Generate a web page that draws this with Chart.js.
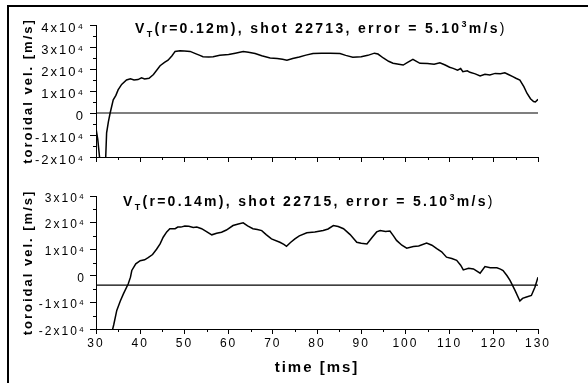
<!DOCTYPE html>
<html>
<head>
<meta charset="utf-8">
<script src="https://cdn.jsdelivr.net/npm/chart.js@4.4.1/dist/chart.umd.min.js"></script>
<style>
  html, body { margin: 0; padding: 0; background: #fff; }
  #frame { position: relative; width: 588px; height: 383px; overflow: hidden; }
  #frame:before { content: ''; position: absolute; left: 7px; top: 5px; right: 0; bottom: 0; border-left: 2px solid #000; border-top: 2px solid #000; }
  canvas { position: absolute; left: 0; }
  #top { top: 0; }
  #bottom { top: 180px; }
</style>
</head>
<body>
<div id="frame">
  <canvas id="top" width="588" height="180"></canvas>
  <canvas id="bottom" width="588" height="203"></canvas>
</div>
<script>
// shot 22713, r = 0.12 m
const timeTop = [30.0, 30.4, 30.8, 31.2, 31.8, 32.2, 32.4, 32.8, 33.2, 33.9, 34.5, 35.0, 35.8, 36.9, 37.8, 38.6, 39.5, 40.3, 41.0, 42.0,
  43.0, 44.5, 45.5, 46.3, 47.2, 47.9, 49.0, 50.0, 51.3, 52.5, 53.5, 54.2, 55.5, 56.5, 58.0, 60.0, 61.5, 63.3, 64.5, 66.0,
  67.5, 69.4, 71.0, 72.2, 73.2, 74.5, 76.0, 77.5, 79.1, 81.0, 83.0, 85.2, 86.5, 88.1, 90.0, 91.5, 93.0, 93.8, 95.0, 96.2,
  97.2, 98.5, 99.5, 100.5, 101.7, 102.5, 103.3, 105.0, 106.5, 107.8, 109.0, 110.0, 110.8, 111.8, 112.5, 113.0, 114.0, 114.6, 115.8, 116.9,
  118.0, 119.1, 120.3, 121.5, 122.5, 123.3, 124.3, 125.0, 125.9, 126.8, 127.5, 128.3, 129.0, 129.4, 130.0];
const velTop = [-7000, -12000, -20000, -26000, -26000, -20000, -9000, -4000, 0, 6000, 8000, 10500, 13000, 15000, 15500, 15000, 15200, 16000, 15500, 15800,
  17500, 21500, 23000, 24000, 26000, 28000, 28300, 28200, 28000, 27000, 26200, 25600, 25500, 25600, 26200, 26600, 27200, 28000, 27600, 27000,
  26000, 25000, 24800, 24400, 24000, 24800, 25500, 26300, 27000, 27200, 27200, 27000, 26200, 25300, 25600, 26200, 27200, 26800, 25000, 23500,
  22600, 22200, 21800, 23000, 24400, 23500, 22600, 22500, 22200, 22800, 21800, 20800, 20300, 19500, 20200, 18800, 19200, 18500, 17800, 16800,
  17600, 17300, 18000, 17800, 18300, 17500, 16500, 15800, 15000, 12000, 9000, 6500, 5200, 5000, 6200];

// shot 22715, r = 0.14 m
const timeBottom = [33.7, 34.0, 34.7, 35.5, 36.2, 37.3, 37.8, 38.1, 39.0, 40.0, 41.0, 41.8, 42.8, 43.7, 44.5, 45.2, 46.0, 46.7, 47.9, 48.5,
  49.2, 50.1, 51.0, 52.0, 52.8, 53.9, 55.0, 56.2, 57.3, 58.4, 59.5, 61.0, 62.2, 63.3, 64.3, 65.5, 66.5, 67.5, 68.5, 69.7,
  71.6, 72.5, 73.1, 74.0, 75.0, 76.0, 77.7, 79.5, 81.4, 82.5, 83.7, 84.8, 86.0, 87.5, 89.0, 90.0, 91.3, 92.5, 93.5, 94.3,
  95.5, 96.5, 97.3, 98.0, 99.2, 100.3, 101.8, 103.0, 104.8, 106.0, 107.1, 108.2, 109.3, 110.5, 111.6, 112.5, 113.1, 114.3, 115.4, 116.9,
  118.0, 119.2, 120.7, 121.5, 122.1, 123.0, 123.7, 124.8, 125.9, 126.5, 127.4, 128.5, 129.3, 130.0];
const velBottom = [-20500, -18500, -13000, -9500, -6800, -3000, -500, 2000, 4500, 5700, 6000, 6800, 8000, 10000, 12000, 14500, 16500, 17700, 17700, 18300,
  18300, 18700, 18600, 18200, 18300, 17700, 16600, 15400, 16000, 16400, 17200, 18900, 19500, 19900, 18800, 17700, 17400, 17000, 15500, 13900,
  12600, 11800, 11100, 12500, 13900, 15000, 16200, 16500, 17000, 17600, 18900, 18500, 17700, 15500, 12600, 12200, 12000, 14500, 16500, 17000,
  16700, 16800, 15000, 13300, 11500, 10400, 11000, 11200, 12300, 11500, 10200, 9000, 7000, 6500, 5800, 4000, 2200, 2800, 2600, 1000,
  3500, 3000, 3000, 2500, 2000, 0, -1800, -5500, -9500, -8500, -8000, -7400, -4300, -500];

// horizontal reference lines
const refTime = [30, 130];
const refTop = [0, 0];
const refBottom = [-3500, -3500];

const xTicks = [30, 40, 50, 60, 70, 80, 90, 100, 110, 120, 130];
const yTicksTop = [-20000, -10000, 0, 10000, 20000, 30000, 40000];
const yTicksBottom = [-20000, -10000, 0, 10000, 20000, 30000];

const FONT = '"Liberation Sans", Arial, sans-serif';

function yLabel(v) {
  if (v === 0) return '0';
  return (v / 10000) + 'x10\u2074';
}

function points(xs, ys) {
  return xs.map((x, i) => ({ x: x, y: ys[i] }));
}

// the original uses widely spaced lettering
const spacing = {
  id: 'spacing',
  beforeDraw(chart) { chart.ctx.letterSpacing = '2px'; }
};

const minorTicks = {
  id: 'minorTicks',
  afterDraw(chart) {
    const { ctx, scales: { x, y } } = chart;
    ctx.save();
    ctx.strokeStyle = '#000';
    ctx.lineWidth = 1;
    ctx.beginPath();
    for (let v = x.min + 5; v < x.max; v += 10) {
      const px = Math.round(x.getPixelForValue(v)) + 0.5;
      ctx.moveTo(px, x.top);
      ctx.lineTo(px, x.top + 3);
    }
    for (let v = y.min + 5000; v < y.max; v += 10000) {
      const py = Math.round(y.getPixelForValue(v)) + 0.5;
      ctx.moveTo(y.right - 3, py);
      ctx.lineTo(y.right, py);
    }
    ctx.stroke();
    ctx.restore();
  }
};

const panelTitle = {
  id: 'panelTitle',
  afterDraw(chart, args, opts) {
    const ctx = chart.ctx;
    ctx.save();
    ctx.fillStyle = '#000';
    ctx.textBaseline = 'alphabetic';
    ctx.textAlign = 'left';
    ctx.letterSpacing = '2.3px';
    let x = opts.x;
    opts.parts.forEach(p => {
      ctx.font = `${p.weight || 'bold'} ${p.size}px ${FONT}`;
      ctx.fillText(p.text, x, opts.y + (p.dy || 0));
      x += ctx.measureText(p.text).width;
    });
    ctx.restore();
  }
};

function titleParts(r, shot) {
  return [
    { text: 'V', size: 14 },
    { text: 'T', size: 9, dy: 4 },
    { text: `(r=${r}m), shot ${shot}, error = 5.10`, size: 14 },
    { text: '3', size: 9, dy: -6 },
    { text: 'm/s', size: 14 },
    { text: ')', size: 14, weight: 'normal' }
  ];
}

function makePanel(id, cfg) {
  return new Chart(document.getElementById(id), {
    type: 'line',
    data: {
      datasets: [
        { data: points(cfg.time, cfg.vel), borderColor: '#000', borderWidth: 1.5, pointRadius: 0, tension: 0 },
        { data: points(refTime, cfg.ref), borderColor: '#000', borderWidth: 1.2, pointRadius: 0, tension: 0 }
      ]
    },
    options: {
      responsive: false,
      animation: false,
      layout: { padding: { top: cfg.top, right: 50, left: 0, bottom: 0 } },
      plugins: {
        legend: { display: false },
        tooltip: { enabled: false },
        panelTitle: { x: cfg.titleX, y: cfg.titleY, parts: titleParts(cfg.r, cfg.shot) }
      },
      scales: {
        x: {
          type: 'linear',
          min: 30,
          max: 130,
          afterFit: s => { s.height = cfg.xHeight; },
          afterBuildTicks: s => { s.ticks = xTicks.map(v => ({ value: v })); },
          ticks: { display: cfg.showX, color: '#000', padding: 2, autoSkip: false, maxRotation: 0,
            font: { family: FONT, size: 12 } },
          grid: { drawOnChartArea: false, tickLength: 5, tickColor: '#000', tickWidth: 1 },
          border: { color: '#000', width: 1 },
          title: { display: cfg.showX, text: 'time [ms]', color: '#000', padding: { top: 0, bottom: 6 },
            font: { family: FONT, size: 15, weight: 'bold' } }
        },
        y: {
          type: 'linear',
          min: cfg.yTicks[0],
          max: cfg.yTicks[cfg.yTicks.length - 1],
          afterFit: s => { s.width = 96; },
          afterBuildTicks: s => { s.ticks = cfg.yTicks.map(v => ({ value: v })); },
          ticks: { color: '#000', padding: cfg.yPad, labelOffset: cfg.yShift, autoSkip: false, callback: yLabel,
            font: { family: FONT, size: cfg.ySize } },
          grid: { drawOnChartArea: false, tickLength: 6, tickColor: '#000', tickWidth: 1 },
          border: { color: '#000', width: 1 },
          title: { display: true, text: 'toroidal vel. [m/s]', color: '#000', padding: { top: 21, bottom: 0 },
            font: { family: FONT, size: 13, weight: 'bold' } }
        }
      }
    },
    plugins: [spacing, minorTicks, panelTitle]
  });
}

makePanel('top', {
  time: timeTop, vel: velTop, ref: refTop, yTicks: yTicksTop,
  top: 25, xHeight: 23, showX: false, ySize: 13, yPad: 5, yShift: 3,
  titleX: 135, titleY: 33, r: '0.12', shot: 22713
});

makePanel('bottom', {
  time: timeBottom, vel: velBottom, ref: refBottom, yTicks: yTicksBottom,
  top: 16, xHeight: 54, showX: true, ySize: 12, yPad: 4, yShift: 2.5,
  titleX: 123, titleY: 26, r: '0.14', shot: 22715
});
</script>
</body>
</html>
